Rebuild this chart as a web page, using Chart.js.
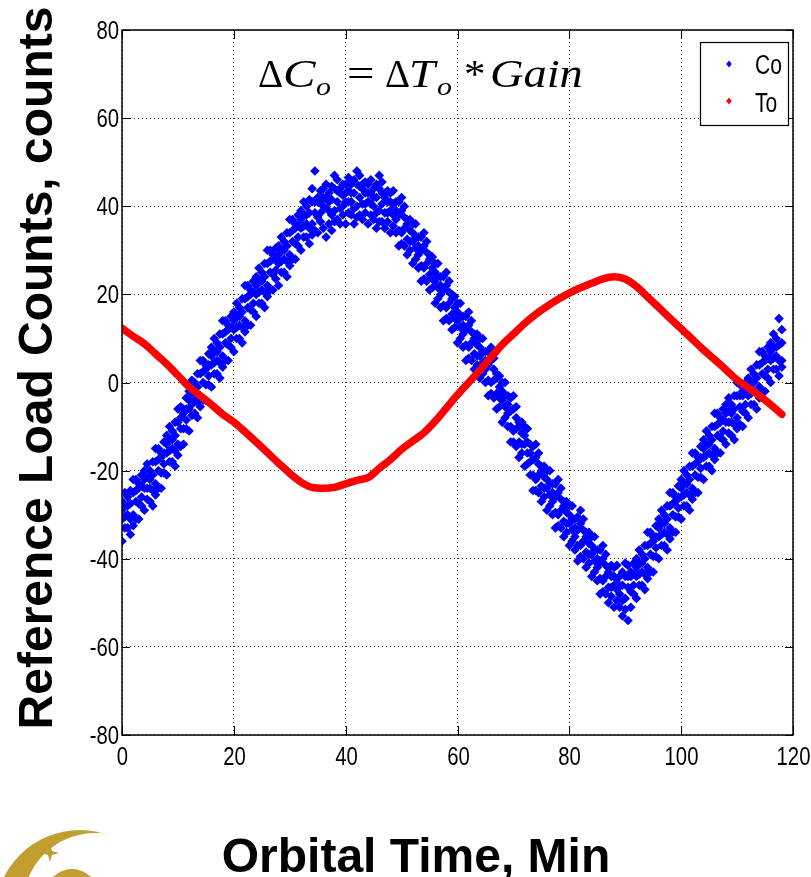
<!DOCTYPE html>
<html>
<head>
<meta charset="utf-8">
<script src="https://cdn.jsdelivr.net/npm/chart.js"></script>
<style>
  html, body { margin: 0; padding: 0; background: #fff; }
  #wrap { width: 811px; height: 877px; position: relative; }
</style>
</head>
<body>
<div id="wrap"><canvas id="refChart"></canvas></div>
<script>
const xTicks = [0, 20, 40, 60, 80, 100, 120];
const yTicks = [-80, -60, -40, -20, 0, 20, 40, 60, 80];
const seriesNames = ['Co', 'To'];
const xTitle = 'Orbital Time, Min';
const yTitle = 'Reference Load Counts, counts';

// Co: sampled every half minute, a few readings per sample (noisy band)
const coTime = [
  0,0.5,1,1.5,2,2.5,3,3.5,4,4.5,5,5.5,6,6.5,7,7.5,8,8.5,9,9.5,
  10,10.5,11,11.5,12,12.5,13,13.5,14,14.5,15,15.5,16,16.5,17,17.5,18,18.5,19,19.5,
  20,20.5,21,21.5,22,22.5,23,23.5,24,24.5,25,25.5,26,26.5,27,27.5,28,28.5,29,29.5,
  30,30.5,31,31.5,32,32.5,33,33.5,34,34.5,35,35.5,36,36.5,37,37.5,38,38.5,39,39.5,
  40,40.5,41,41.5,42,42.5,43,43.5,44,44.5,45,45.5,46,46.5,47,47.5,48,48.5,49,49.5,
  50,50.5,51,51.5,52,52.5,53,53.5,54,54.5,55,55.5,56,56.5,57,57.5,58,58.5,59,59.5,
  60,60.5,61,61.5,62,62.5,63,63.5,64,64.5,65,65.5,66,66.5,67,67.5,68,68.5,69,69.5,
  70,70.5,71,71.5,72,72.5,73,73.5,74,74.5,75,75.5,76,76.5,77,77.5,78,78.5,79,79.5,
  80,80.5,81,81.5,82,82.5,83,83.5,84,84.5,85,85.5,86,86.5,87,87.5,88,88.5,89,89.5,
  90,90.5,91,91.5,92,92.5,93,93.5,94,94.5,95,95.5,96,96.5,97,97.5,98,98.5,99,99.5,
  100,100.5,101,101.5,102,102.5,103,103.5,104,104.5,105,105.5,106,106.5,107,107.5,108,108.5,109,109.5,
  110,110.5,111,111.5,112,112.5,113,113.5,114,114.5,115,115.5,116,116.5,117,117.5,118
];
const coCounts = [
  [-36,-31,-27,-29], [-33,-28,-25,-30.5], [-33,-30,-26,-28], [-34.5,-27.5,-24.5,-31],
  [-30,-25,-22,-32.5], [-31,-27,-22,-24.5], [-31,-24,-23,-27.5], [-28,-26,-21,-23.5],
  [-29,-24,-20,-22], [-26.5,-21.5,-18.5,-24], [-27,-24,-20,-22], [-28,-21,-18,-24.5],
  [-23,-18,-15,-25.5], [-24,-20,-15,-17.5], [-24,-17,-16,-20.5], [-20.5,-18.5,-13.5,-16],
  [-21,-16,-12,-14], [-18,-13,-10,-15.5], [-18,-15,-11,-13], [-19,-12,-9,-15.5],
  [-14,-9,-6,-16.5], [-14.5,-10.5,-5.5,-8], [-14,-7,-6,-10.5], [-10.5,-8.5,-3.5,-6],
  [-11,-6,-2,-4], [-7.5,-2.5,0.5,-5], [-7,-4,0,-2], [-8,-1,2,-4.5],
  [-3,2,5,-5.5], [-4,0,5,2.5], [-4,3,4,-0.5], [-0.5,1.5,6.5,4],
  [-1,4,8,6], [2,7,10,4.5], [2,5,9,7], [1,8,11,4.5],
  [6,11,14,3.5], [5,9,14,11.5], [5,12,13,8.5], [8,10,15,12.5],
  [7,12,16,14], [10,15,18,12.5], [10,13,17,15], [9,16,19,12.5],
  [14,19,22,11.5], [13,17,22,19.5], [13,20,21,16.5], [16,18,23,20.5],
  [15,20,24,22], [18,23,26,20.5], [18,21,25,23], [17,24,27,20.5],
  [22,27,30,19.5], [21,25,30,27.5], [21,28,29,24.5], [23.5,25.5,30.5,28],
  [22,27,31,29], [25,30,33,27.5], [25,28,32,30], [24,31,34,27.5],
  [29,34,37,26.5], [28,32,37,34.5], [28,35,36,31.5], [31,33,38,35.5],
  [30,35,39,37], [33,38,41,35.5], [33,36,40,38], [31.5,38.5,41.5,35],
  [36,41,44,33.5], [34.5,38.5,48,41], [34,41,42,37.5], [36.5,38.5,43.5,41],
  [35,40,44,42], [33,42,45,39.5], [36,39,43,41], [34.5,41.5,44.5,38],
  [39,44,47,36.5], [37,41,46,43.5], [36,43,44,39.5], [38,40,45,42.5],
  [36,41,45,43], [38.5,43.5,46.5,41], [38,41,45,43], [36,43,46,39.5],
  [40,45,48,37.5], [38,42,47,44.5], [37,44,45,40.5], [38.5,40.5,45.5,43],
  [36,41,45,43], [38,43,46,40.5], [37,40,44,42], [35,42,45,38.5],
  [39,44,47,36.5], [36.5,40.5,45.5,43], [35,42,43,38.5], [36.5,38.5,43.5,41],
  [34,39,43,41], [35.5,40.5,43.5,38], [34,37,41,39], [31,38,41,34.5],
  [34,39,42,31.5], [31,35,40,37.5], [29,36,37,32.5], [30,32,37,34.5],
  [27,32,36,34], [28,33,36,30.5], [26,29,33,31], [23,30,33,26.5],
  [26,31,34,23.5], [23,27,32,29.5], [21,28,29,24.5], [21.5,23.5,28.5,26],
  [18,23,27,25], [19,24,27,21.5], [17,20,24,22], [14,21,24,17.5],
  [17,22,25,14.5], [14,18,23,20.5], [12,19,20,15.5], [12.5,14.5,19.5,17],
  [9,14,18,16], [10,15,18,12.5], [8,11,15,13], [5,12,15,8.5],
  [8,13,16,5.5], [5,9,14,11.5], [3,10,11,6.5], [4,6,11,8.5],
  [1,6,10,8], [2,7,10,4.5], [0,3,7,5], [-3,4,7,0.5],
  [0,5,8,-2.5], [-3.5,0.5,5.5,3], [-6,1,2,-2.5], [-5.5,-3.5,1.5,-1],
  [-9,-4,0,-2], [-8,-3,0,-5.5], [-10,-7,-3,-5], [-13.5,-6.5,-3.5,-10],
  [-11,-6,-3,-13.5], [-14.5,-10.5,-5.5,-8], [-17,-10,-9,-13.5], [-16,-14,-9,-11.5],
  [-19,-14,-10,-12], [-18.5,-13.5,-10.5,-16], [-21,-18,-14,-16], [-24.5,-17.5,-14.5,-21],
  [-22,-17,-14,-24.5], [-25,-21,-16,-18.5], [-27,-20,-19,-23.5], [-26,-24,-19,-21.5],
  [-29,-24,-20,-22], [-28,-23,-20,-25.5], [-30,-27,-23,-25], [-33,-26,-23,-29.5],
  [-30,-25,-22,-32.5], [-33,-29,-24,-26.5], [-35,-28,-27,-31.5], [-34,-32,-27,-29.5],
  [-37,-32,-28,-30], [-36,-31,-28,-33.5], [-38,-35,-31,-33], [-40.5,-33.5,-30.5,-37],
  [-37,-32,-29,-39.5], [-40,-36,-31,-33.5], [-42,-35,-34,-38.5], [-41,-39,-34,-36.5],
  [-44,-39,-35,-37], [-43,-38,-35,-40.5], [-45,-42,-38,-40], [-48,-41,-38,-44.5],
  [-45,-40,-37,-47.5], [-48,-44,-39,-41.5], [-50,-43,-42,-46.5], [-48.5,-46.5,-41.5,-44],
  [-51,-46,-42,-44], [-49.5,-44.5,-41.5,-47], [-51,-48,-44,-46], [-53,-46,-43,-49.5],
  [-49,-44,-41,-51.5], [-54,-46.5,-41.5,-44], [-51,-44,-43,-47.5], [-48,-46,-41,-43.5],
  [-49,-44,-40,-42], [-46,-41,-38,-43.5], [-46,-43,-39,-41], [-47,-40,-37,-43.5],
  [-42,-37,-34,-44.5], [-43,-39,-34,-36.5], [-43,-36,-35,-39.5], [-39.5,-37.5,-32.5,-35],
  [-40,-35,-31,-33], [-37,-32,-29,-34.5], [-37,-34,-30,-32], [-38,-31,-28,-34.5],
  [-33,-28,-25,-35.5], [-34,-30,-25,-27.5], [-34,-27,-26,-30.5], [-30.5,-28.5,-23.5,-26],
  [-31,-26,-22,-24], [-28,-23,-20,-25.5], [-28,-25,-21,-23], [-29,-22,-19,-25.5],
  [-24,-19,-16,-26.5], [-25,-21,-16,-18.5], [-25,-18,-17,-21.5], [-21.5,-19.5,-14.5,-17],
  [-22,-17,-13,-15], [-19,-14,-11,-16.5], [-19,-16,-12,-14], [-20,-13,-10,-16.5],
  [-15,-10,-7,-17.5], [-16,-12,-7,-9.5], [-16,-9,-8,-12.5], [-13,-11,-6,-8.5],
  [-14,-9,-5,-7], [-11.5,-6.5,-3.5,-9], [-12,-9,-5,-7], [-13,-6,-3,-9.5],
  [-8,-3,0,-10.5], [-9.5,-5.5,-0.5,-3], [-10,-3,-2,-6.5], [-7,-5,0,-2.5],
  [-8,-3,1,-1], [-5,0,3,-2.5], [-5,-2,2,0], [-6,1,4,-2.5],
  [-1,4,7,-3.5], [-2,2,7,4.5], [-2,5,6,1.5], [1,3,8,5.5],
  [0,5,9,7], [3,8,11,5.5], [3,6,10,8], [1.5,8.5,14.5,5],
  [5,9,12,3.5]
];

// To: smooth temperature trace
const toTime = [
  0,2,4,6,8,10,12,14,16,18,20,22,24,26,28,30,32,34,36,38,
  40,42,44,46,48,50,52,54,56,58,60,62,64,66,68,70,72,74,76,78,
  80,82,84,86,88,90,92,94,96,98,100,102,104,106,108,110,112,114,116,118
];
const toCounts = [
  12.3,10.5,8.8,6.5,4.2,1.6,-1,-3,-5,-7.2,-9,-11.2,-13.5,-15.9,-18.3,-20.6,-22.6,-23.8,-24,-23.8,
  -23,-22.2,-21.6,-19.5,-17.5,-15.2,-13.3,-11.4,-8.8,-5.8,-2.8,0,2.8,5.7,8.6,11,13.4,15.5,17.3,18.9,
  20.3,21.5,22.5,23.5,24,23.5,21.8,19.4,17,14.6,12.2,9.8,7.4,5.2,2.9,0.6,-1.2,-3,-5,-7.2
];

const coPoints = [];
coTime.forEach((t, i) => coCounts[i].forEach(v => coPoints.push({ x: t, y: v })));
const toPoints = toTime.map((t, i) => ({ x: t, y: toCounts[i] }));

const sans = "'Liberation Sans', Arial, sans-serif";
const serif = "'Liberation Serif', 'Times New Roman', serif";
const narrowX = 0.78; // squeeze to look like a condensed face

function diamond(ctx, x, y, r, color) {
  ctx.beginPath();
  ctx.moveTo(x, y - r); ctx.lineTo(x + r * 0.8, y); ctx.lineTo(x, y + r); ctx.lineTo(x - r * 0.8, y);
  ctx.closePath();
  ctx.fillStyle = color;
  ctx.fill();
}

function narrowText(ctx, txt, x, y, align, baseline, size) {
  ctx.save();
  ctx.translate(x, y);
  ctx.scale(narrowX, 1);
  ctx.font = size + 'px ' + sans;
  ctx.textAlign = align;
  ctx.textBaseline = baseline;
  ctx.fillText(txt, 0, 0);
  ctx.restore();
}

const decor = {
  id: 'decor',
  afterDraw(chart) {
    const ctx = chart.ctx;
    const a = chart.chartArea;
    const xs = chart.scales.x, ys = chart.scales.y;
    ctx.save();
    ctx.fillStyle = '#000';

    // frame and inward ticks
    ctx.strokeStyle = '#000';
    ctx.lineWidth = 1.5;
    ctx.strokeRect(a.left, a.top, a.right - a.left, a.bottom - a.top);
    ctx.beginPath();
    xTicks.forEach(v => {
      const p = Math.round(xs.getPixelForValue(v)) + 0.5;
      ctx.moveTo(p, a.bottom); ctx.lineTo(p, a.bottom - 9);
      ctx.moveTo(p, a.top); ctx.lineTo(p, a.top + 9);
      narrowText(ctx, String(v), p, a.bottom + 10, 'center', 'top', 26);
    });
    yTicks.forEach(v => {
      const p = Math.round(ys.getPixelForValue(v)) + 0.5;
      ctx.moveTo(a.left, p); ctx.lineTo(a.left + 8, p);
      ctx.moveTo(a.right, p); ctx.lineTo(a.right - 8, p);
      narrowText(ctx, String(v), a.left - 3, p + 1, 'right', 'middle', 26);
    });
    ctx.lineWidth = 1;
    ctx.stroke();

    // equation
    ctx.textBaseline = 'alphabetic';
    ctx.textAlign = 'left';
    const base = 87;
    const piece = (txt, x, y, font, sx) => {
      ctx.save();
      ctx.translate(x, y);
      ctx.scale(sx || 1, 1);
      ctx.font = font;
      ctx.fillText(txt, 0, 0);
      ctx.restore();
    };
    piece('\u0394', 258, base, '39px ' + serif);
    piece('C', 283, base, 'italic 39px ' + serif, 1.25);
    piece('o', 316, base + 8, 'italic 26px ' + serif, 1.15);
    piece('=', 347, base, '39px ' + serif, 1.25);
    piece('\u0394', 385, base, '39px ' + serif);
    piece('T', 409, base, 'italic 39px ' + serif, 1.2);
    piece('o', 437, base + 8, 'italic 26px ' + serif, 1.15);
    piece('*', 464, base, '39px ' + serif, 1.1);
    piece('Gain', 490, base, 'italic 39px ' + serif, 1.19);

    // legend
    ctx.fillStyle = '#fff';
    ctx.fillRect(700, 42, 88, 83);
    ctx.strokeStyle = '#000';
    ctx.lineWidth = 1.2;
    ctx.strokeRect(700.5, 42.5, 88, 83);
    diamond(ctx, 729, 64, 3.5, '#0000ff');
    diamond(ctx, 729, 101, 3.5, '#ff0000');
    ctx.fillStyle = '#000';
    narrowText(ctx, seriesNames[0], 755, 74, 'left', 'alphabetic', 27);
    narrowText(ctx, seriesNames[1], 755, 112, 'left', 'alphabetic', 27);

    // axis titles
    ctx.font = "bold 48px " + sans;
    ctx.textAlign = 'center';
    ctx.fillText(xTitle, 416, 872);
    ctx.save();
    ctx.translate(52, 368);
    ctx.rotate(-Math.PI / 2);
    ctx.fillText(yTitle, 0, 0);
    ctx.restore();

    // logo corner
    const gold = '#c29d2f';
    ctx.save();
    ctx.beginPath();
    ctx.rect(0, 800, 130, 77);
    ctx.clip();
    ctx.beginPath();
    ctx.arc(80, 915, 85, 0, Math.PI * 2);
    ctx.fillStyle = gold;
    ctx.fill();
    ctx.beginPath();
    ctx.arc(95, 905, 72, 0, Math.PI * 2);
    ctx.fillStyle = '#fff';
    ctx.fill();
    ctx.beginPath();
    ctx.arc(72, 895, 26, 0, Math.PI * 2);
    ctx.fillStyle = gold;
    ctx.fill();
    ctx.beginPath();
    ctx.moveTo(50, 844); ctx.lineTo(52, 851); ctx.lineTo(59, 853); ctx.lineTo(52, 855);
    ctx.lineTo(50, 862); ctx.lineTo(48, 855); ctx.lineTo(41, 853); ctx.lineTo(48, 851);
    ctx.closePath();
    ctx.fill();
    ctx.restore();

    ctx.restore();
  }
};

new Chart(document.getElementById('refChart'), {
  type: 'scatter',
  data: {
    datasets: [
      {
        label: seriesNames[1],
        data: toPoints,
        showLine: true,
        borderColor: '#ff0000',
        backgroundColor: '#ff0000',
        borderWidth: 7.5,
        borderCapStyle: 'round',
        borderJoinStyle: 'round',
        cubicInterpolationMode: 'monotone',
        pointRadius: 0,
        order: 0
      },
      {
        label: seriesNames[0],
        data: coPoints,
        pointStyle: 'rectRot',
        pointRadius: 4.8,
        pointBorderWidth: 0,
        backgroundColor: '#0000ff',
        borderColor: '#0000ff',
        order: 1
      }
    ]
  },
  options: {
    responsive: true,
    maintainAspectRatio: false,
    animation: false,
    events: [],
    layout: { padding: { top: 30, right: 18, left: 0, bottom: 0 } },
    plugins: { legend: { display: false }, tooltip: { enabled: false } },
    scales: {
      x: {
        type: 'linear',
        min: 0, max: 120,
        afterFit(scale) { scale.height = 142; },
        afterBuildTicks(scale) { scale.ticks = xTicks.map(v => ({ value: v })); },
        ticks: { display: false },
        grid: { color: '#333', lineWidth: 1, drawTicks: false },
        border: { display: false, dash: [1, 3] }
      },
      y: {
        type: 'linear',
        min: -80, max: 80,
        afterFit(scale) { scale.width = 122; },
        afterBuildTicks(scale) { scale.ticks = yTicks.map(v => ({ value: v })); },
        ticks: { display: false },
        grid: { color: '#333', lineWidth: 1, drawTicks: false },
        border: { display: false, dash: [1, 3] }
      }
    }
  },
  plugins: [decor]
});
</script>
</body>
</html>
